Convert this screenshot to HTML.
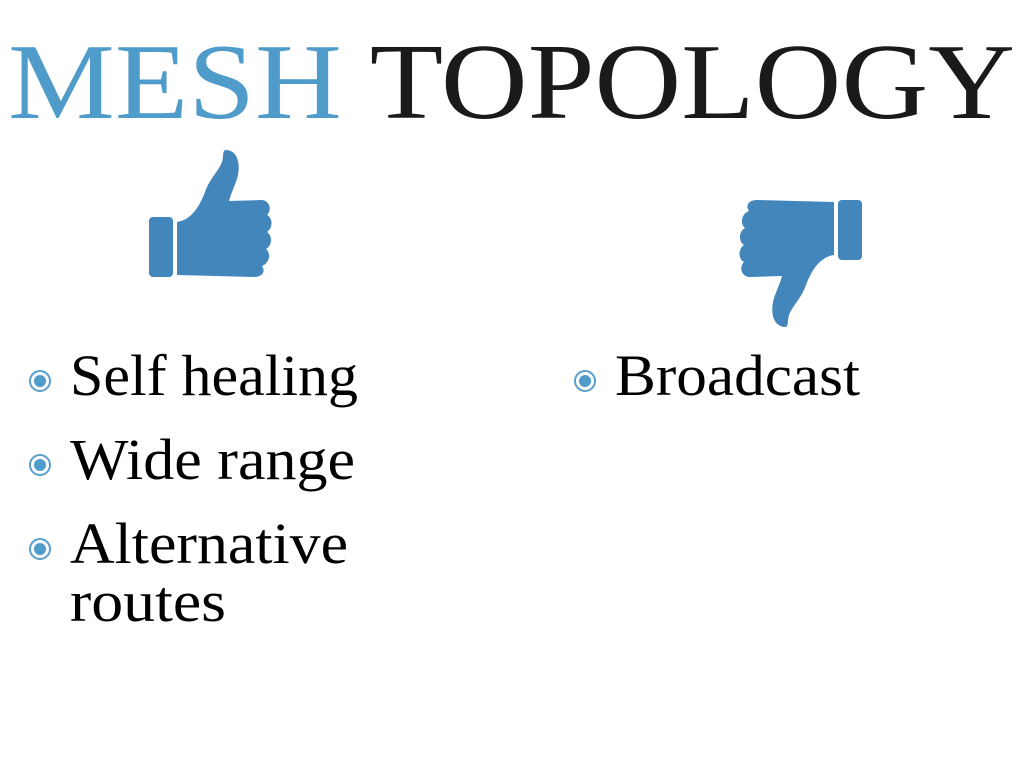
<!DOCTYPE html>
<html><head><meta charset="utf-8"><style>
html,body{margin:0;padding:0;background:#fff;width:1024px;height:768px;overflow:hidden}
svg{display:block}
text{font-family:"Liberation Serif",serif}
</style></head><body>
<svg width="1024" height="768" viewBox="0 0 1024 768">
<g>
<text x="8" y="118" font-size="108" textLength="1007" lengthAdjust="spacingAndGlyphs"><tspan fill="#4f9bc9">MESH</tspan><tspan fill="#1a1a1a"> TOPOLOGY</tspan></text>
</g>
<g id="thumb" fill="#4286bb">
<rect x="149" y="217" width="24" height="60" rx="4"/>
<path d="M177 222 C192 220 200 205 205 192 C210 178 218 172 222 162 C224 156 222 150 226 150 C234 150 241 158 238 175 C236 184 232 190 229 201 L262 200 C270 201 272 210 267 215 C273 218 273 228 267 232 C273 236 272 246 266 249 C271 253 270 263 262 266 C266 272 262 277 254 277 L177 275 Z"/>
</g>
<g fill="#4286bb" transform="rotate(180 505.5 238.5)">
<rect x="149" y="217" width="24" height="60" rx="4"/>
<path d="M177 222 C192 220 200 205 205 192 C210 178 218 172 222 162 C224 156 222 150 226 150 C234 150 241 158 238 175 C236 184 232 190 229 201 L262 200 C270 201 272 210 267 215 C273 218 273 228 267 232 C273 236 272 246 266 249 C271 253 270 263 262 266 C266 272 262 277 254 277 L177 275 Z"/>
</g>
<g font-size="58" fill="#000">
<g>
<circle cx="40" cy="381" r="10" fill="none" stroke="#5a9fcc" stroke-width="2"/><circle cx="40" cy="381" r="6" fill="#4f9bc9"/>
<text x="70" y="395" textLength="288" lengthAdjust="spacingAndGlyphs">Self healing</text></g>
<g>
<circle cx="40" cy="465" r="10" fill="none" stroke="#5a9fcc" stroke-width="2"/><circle cx="40" cy="465" r="6" fill="#4f9bc9"/>
<text x="70" y="479" textLength="285" lengthAdjust="spacingAndGlyphs">Wide range</text></g>
<g>
<circle cx="40" cy="549" r="10" fill="none" stroke="#5a9fcc" stroke-width="2"/><circle cx="40" cy="549" r="6" fill="#4f9bc9"/>
<text x="70" y="563" textLength="278" lengthAdjust="spacingAndGlyphs">Alternative</text>
<text x="70" y="621" textLength="156" lengthAdjust="spacingAndGlyphs">routes</text></g>
</g>
<g font-size="58" fill="#000">
<g>
<circle cx="585" cy="381" r="10" fill="none" stroke="#5a9fcc" stroke-width="2"/><circle cx="585" cy="381" r="6" fill="#4f9bc9"/>
<text x="615" y="395" textLength="245" lengthAdjust="spacingAndGlyphs">Broadcast</text></g>
</g>
</svg>
</body></html>
